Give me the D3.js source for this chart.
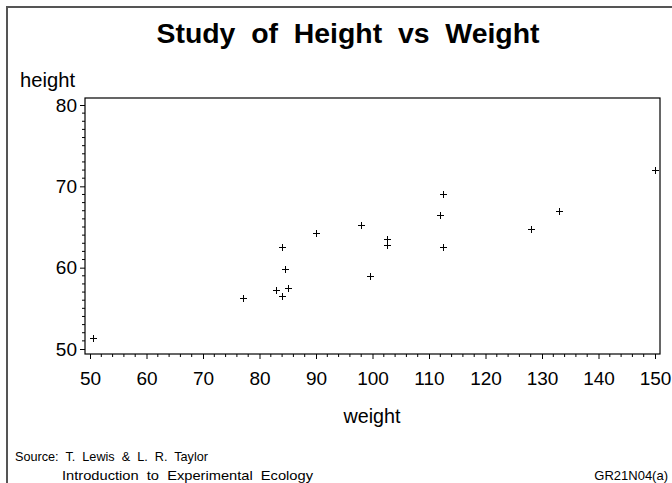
<!DOCTYPE html>
<html>
<head>
<meta charset="utf-8">
<script src="https://cdn.jsdelivr.net/npm/d3@7"></script>
<style>
  html, body { margin: 0; padding: 0; background: #fff; }
  svg { display: block; }
  text { font-family: "Liberation Sans", Arial, Helvetica, sans-serif; fill: #000; }
</style>
</head>
<body>
<svg id="chart" width="672" height="483"></svg>
<script>
// ---- Data (weight vs height, 19 students) ----
const names   = ["Alfred","Alice","Barbara","Carol","Henry","James","Jane","Janet","Jeffrey","John",
                 "Joyce","Judy","Louise","Mary","Philip","Robert","Ronald","Thomas","William"];
const weights = [112.5, 84.0, 98.0, 102.5, 102.5, 83.0, 84.5, 112.5, 84.0, 99.5,
                 50.5, 90.0, 77.0, 112.0, 150.0, 128.0, 133.0, 85.0, 112.0];
const heights = [69.0, 56.5, 65.3, 62.8, 63.5, 57.3, 59.8, 62.5, 62.5, 59.0,
                 51.3, 64.3, 56.3, 66.5, 72.0, 64.8, 67.0, 57.5, 66.5];
const xTicks = [50, 60, 70, 80, 90, 100, 110, 120, 130, 140, 150];
const yTicks = [50, 60, 70, 80];
const titleText = "Study  of  Height  vs  Weight";
const xLabel = "weight";
const yLabel = "height";
const footLines = ["Source:  T.  Lewis  &  L.  R.  Taylor", "Introduction  to  Experimental  Ecology"];
const footRight = "GR21N04(a)";

const svg = d3.select("#chart");

// outer border (extends beyond right/bottom edge)
svg.append("rect").attr("x", 7).attr("y", 7).attr("width", 720).attr("height", 520)
  .attr("fill", "none").attr("stroke", "#555").attr("stroke-width", 2);

const x = d3.scaleLinear().domain([50, 150]).range([90, 655]);
const y = d3.scaleLinear().domain([50, 80]).range([349, 105]);

const frame = {left: 85, right: 660, top: 98, bottom: 354};

// frame
svg.append("rect").attr("x", frame.left).attr("y", frame.top)
  .attr("width", frame.right - frame.left).attr("height", frame.bottom - frame.top)
  .attr("fill", "none").attr("stroke", "#000").attr("stroke-width", 1.2);

// x axis
const xMinor = d3.range(50, 150.01, 2).filter(v => xTicks.indexOf(v) < 0);
const gx = svg.append("g").attr("transform", `translate(0,${frame.bottom})`);
gx.call(d3.axisBottom(x).tickValues(xTicks).tickSize(5).tickPadding(13).tickFormat(d3.format("d")));
gx.select(".domain").remove();
gx.selectAll("text").style("font-size", "19px").attr("fill", "#000");
gx.selectAll("line").attr("stroke", "#000");
gx.selectAll(".minor").data(xMinor).enter().append("line")
  .attr("x1", d => x(d)).attr("x2", d => x(d)).attr("y1", 0).attr("y2", 3).attr("stroke", "#000");

// y axis
const yMinor = d3.range(50, 80.01, 1).filter(v => yTicks.indexOf(v) < 0);
const gy = svg.append("g").attr("transform", `translate(${frame.left},0)`);
gy.call(d3.axisLeft(y).tickValues(yTicks).tickSize(5).tickPadding(3).tickFormat(d3.format("d")));
gy.select(".domain").remove();
gy.selectAll("text").style("font-size", "19px").attr("fill", "#000");
gy.selectAll("line").attr("stroke", "#000");
gy.selectAll(".minor").data(yMinor).enter().append("line")
  .attr("x1", -3).attr("x2", 0).attr("y1", d => y(d)).attr("y2", d => y(d)).attr("stroke", "#000");

// points (+ markers)
const pts = svg.append("g");
const arm = 3.5;
weights.forEach((w, i) => {
  const cx = Math.round(x(w)) + 0.5, cy = Math.round(y(heights[i])) + 0.5;
  pts.append("path").attr("d", `M${cx - arm},${cy}H${cx + arm}M${cx},${cy - arm}V${cy + arm}`)
    .attr("stroke", "#000").attr("stroke-width", 1).attr("fill", "none");
});

// texts
svg.append("text").attr("x", 348).attr("y", 43).attr("text-anchor", "middle")
  .style("font-size", "28px").style("font-weight", "bold").style("white-space", "pre")
  .attr("textLength", 383).attr("lengthAdjust", "spacingAndGlyphs")
  .attr("xml:space", "preserve").text(titleText);
svg.append("text").attr("x", 20).attr("y", 87).style("font-size", "20px")
  .attr("textLength", 55).attr("lengthAdjust", "spacingAndGlyphs").text(yLabel);
svg.append("text").attr("x", 372).attr("y", 423).attr("text-anchor", "middle").style("font-size", "20px")
  .attr("textLength", 57).attr("lengthAdjust", "spacingAndGlyphs").text(xLabel);
svg.append("text").attr("x", 15).attr("y", 461).style("font-size", "13px").style("white-space", "pre")
  .attr("textLength", 193).attr("lengthAdjust", "spacingAndGlyphs")
  .attr("xml:space", "preserve").text(footLines[0]);
svg.append("text").attr("x", 62).attr("y", 480).style("font-size", "13px").style("white-space", "pre")
  .attr("textLength", 251).attr("lengthAdjust", "spacingAndGlyphs")
  .attr("xml:space", "preserve").text(footLines[1]);
svg.append("text").attr("x", 668).attr("y", 480).attr("text-anchor", "end").style("font-size", "13px").text(footRight);
</script>
</body>
</html>
